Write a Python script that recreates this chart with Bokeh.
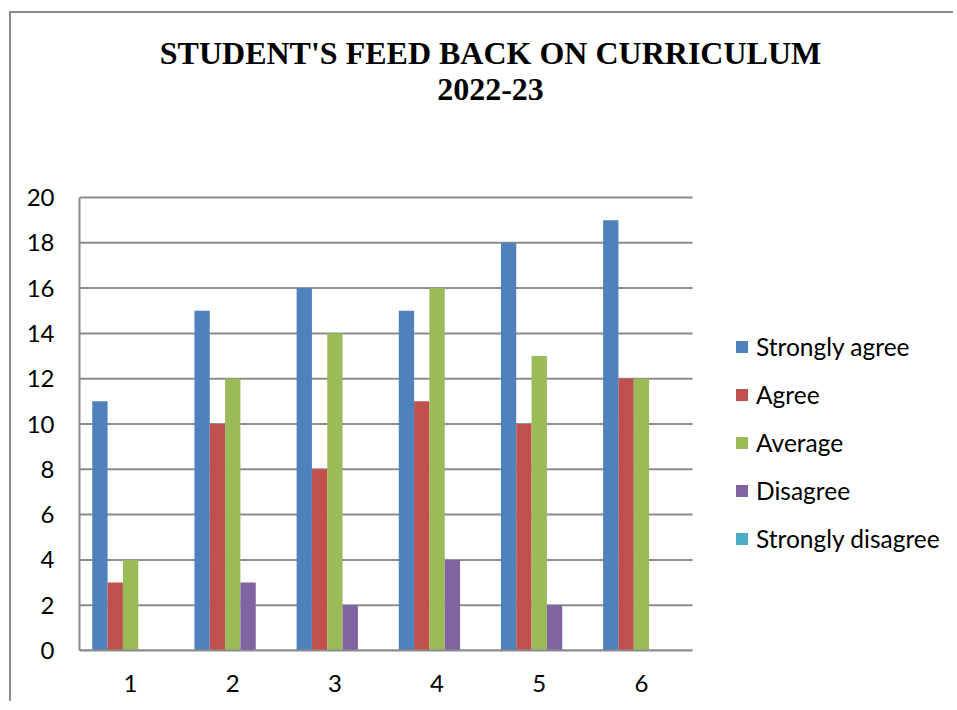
from bokeh.plotting import figure
from bokeh.models import ColumnDataSource, Range1d, Legend, LegendItem, Label
from bokeh.transform import dodge
from bokeh.embed import file_html
from bokeh.resources import INLINE

categories = ["1", "2", "3", "4", "5", "6"]
series_names = ["Strongly agree", "Agree", "Average", "Disagree", "Strongly disagree"]
strongly_agree = [11, 15, 16, 15, 18, 19]
agree = [3, 10, 8, 11, 10, 12]
average = [4, 12, 14, 16, 13, 12]
disagree = [0, 3, 2, 4, 2, 0]
strongly_disagree = [0, 0, 0, 0, 0, 0]
y_ticks = [0, 2, 4, 6, 8, 10, 12, 14, 16, 18, 20]
title_lines = ["STUDENT'S FEED BACK ON CURRICULUM", "2022-23"]

colors = ["#4F81BD", "#C0504D", "#9BBB59", "#8064A2", "#4BACC6"]
series = [strongly_agree, agree, average, disagree, strongly_disagree]
keys = ["sa", "a", "av", "d", "sd"]

n = len(categories)
xpos = list(range(1, n + 1))
data = {"x": xpos}
for k, s in zip(keys, series):
    data[k] = s
source = ColumnDataSource(data)

# layout (pixels)
W, H = 944, 690
left_b, bottom_b = 68, 53
plot_w, plot_h = 613, 453          # visible plot area
frame_w, frame_h = W - left_b, H - bottom_b
y_max = max(y_ticks)
y_end = y_max * frame_h / plot_h
x_start = 0.5
x_end = x_start + n * frame_w / plot_w
ppx = plot_w / n                   # pixels per x unit
ppy = plot_h / y_max               # pixels per y unit

p = figure(
    width=W, height=H,
    x_range=Range1d(x_start, x_end),
    y_range=Range1d(0, y_end),
    output_backend="svg", toolbar_location=None,
    min_border_left=left_b, min_border_right=0, min_border_top=0, min_border_bottom=bottom_b,
    styles={"border-left": "2px solid #8c8c8c", "border-top": "2px solid #8c8c8c",
            "margin-left": "9px", "margin-top": "11px"},
)
p.outline_line_color = None
p.background_fill_color = "white"
p.border_fill_color = "white"
p.xgrid.visible = False
p.ygrid.visible = False

# horizontal gridlines limited to the plot area
p.segment(x0=[x_start] * len(y_ticks), x1=[x_start + n] * len(y_ticks), y0=y_ticks, y1=y_ticks,
          line_color="#8c8c8c", line_width=2)

bw = 0.15
offsets = [-0.3, -0.15, 0.0, 0.15, 0.3]
renderers = []
for k, c, off in zip(keys, colors, offsets):
    r = p.vbar(x=dodge("x", off), top=k, width=bw, source=source,
               fill_color=c, line_color=None)
    renderers.append(r)

# axes
for ax in (p.xaxis[0], p.yaxis[0]):
    ax.axis_line_color = "#8c8c8c"
    ax.axis_line_width = 2
    ax.major_tick_line_color = None
    ax.minor_tick_line_color = None
    ax.major_tick_out = 0
    ax.major_tick_in = 0
    ax.major_label_text_font = "Lato"
    ax.major_label_text_font_size = "24px"
    ax.major_label_text_color = "#000000"
p.yaxis[0].ticker = y_ticks
p.yaxis[0].bounds = (0, y_max)
p.yaxis[0].major_label_standoff = 25
p.xaxis[0].ticker = xpos
p.xaxis[0].major_label_overrides = {i: c for i, c in zip(xpos, categories)}
p.xaxis[0].bounds = (x_start, x_start + n)
p.xaxis[0].major_label_standoff = 24

# title (page pixel targets converted to data units)
title_cx = x_start + (490 - 79) / ppx
for line, cy in zip(title_lines, [52, 89]):
    p.add_layout(Label(x=title_cx, y=(650 - cy) / ppy, text=line,
                       text_font="Liberation Serif", text_font_style="bold", text_font_size="32px",
                       text_align="center", text_baseline="middle", text_color="#000000"))

legend = Legend(items=[LegendItem(label=nm, renderers=[r]) for nm, r in zip(series_names, renderers)],
                location=(655, 88))
legend.border_line_color = None
legend.background_fill_alpha = 0
legend.padding = 0
legend.margin = 0
legend.spacing = 0
legend.label_height = 48
legend.glyph_height = 15
legend.glyph_width = 15
legend.label_standoff = 7
legend.label_text_font = "Lato"
legend.label_text_font_size = "24.5px"
legend.label_text_color = "#000000"
p.add_layout(legend)

open("out.html", "w").write(file_html(p, INLINE))
